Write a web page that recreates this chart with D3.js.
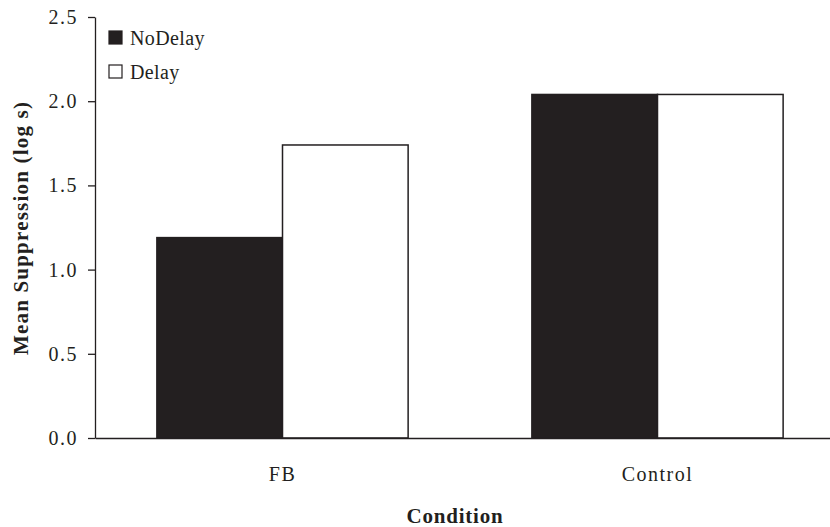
<!DOCTYPE html>
<html>
<head>
<meta charset="utf-8">
<script src="https://cdn.jsdelivr.net/npm/d3@7/dist/d3.min.js"></script>
<style>
  html, body { margin: 0; padding: 0; background: #fff; }
  svg { display: block; }
  svg text { font-family: "Liberation Serif", "Times New Roman", serif !important; fill: #231f20; }
</style>
</head>
<body>
<svg id="chart" width="830" height="527"></svg>
<script>
const categories = ["FB", "Control"];
const seriesNames = ["NoDelay", "Delay"];
const noDelayValues = [1.19, 2.04];
const delayValues = [1.74, 2.04];
const yTicks = [0.0, 0.5, 1.0, 1.5, 2.0, 2.5];
const seriesFill = ["#231f20", "#ffffff"];

const svg = d3.select("#chart");
const mLeft = 95, mRight = 845, mTop = 17, mBottom = 438;

const x0 = d3.scaleBand().domain(categories).range([mLeft, mRight]).paddingInner(0.33).paddingOuter(0.165);
const x1 = d3.scaleBand().domain(seriesNames).range([0, x0.bandwidth()]);
const y = d3.scaleLinear().domain([0, 2.5]).range([mBottom, mTop]);

const data = categories.map((c, i) => ({ cat: c, vals: [noDelayValues[i], delayValues[i]] }));

const g = svg.append("g");
g.selectAll("g.cat").data(data).enter().append("g")
  .attr("transform", d => `translate(${x0(d.cat)},0)`)
  .selectAll("rect").data(d => d.vals.map((v, j) => ({ s: seriesNames[j], v, j })))
  .enter().append("rect")
  .attr("x", d => x1(d.s))
  .attr("y", d => y(d.v))
  .attr("width", x1.bandwidth())
  .attr("height", d => mBottom - y(d.v))
  .attr("fill", d => seriesFill[d.j])
  .attr("stroke", "#231f20")
  .attr("stroke-width", 1.5);

// y axis
const yAxis = d3.axisLeft(y).tickValues(yTicks).tickFormat(d3.format(".1f")).tickSize(7).tickSizeOuter(0);
const ya = svg.append("g").attr("transform", `translate(${mLeft},0)`).call(yAxis);
ya.select(".domain").attr("stroke", "#231f20").attr("stroke-width", 1.3);
ya.selectAll(".tick line").attr("stroke", "#231f20").attr("stroke-width", 1.3);
ya.selectAll(".tick text").attr("x", -17).attr("font-size", 20).attr("letter-spacing", "1.5px").attr("fill", "#231f20");

// x axis
const xAxis = d3.axisBottom(x0).tickSize(0).tickSizeOuter(0).tickPadding(0);
const xa = svg.append("g").attr("transform", `translate(0,${mBottom})`).call(xAxis);
xa.select(".domain").attr("stroke", "#231f20").attr("stroke-width", 1.3);
xa.selectAll(".tick text").attr("y", 37).attr("dy", "0.32em").attr("font-size", 20).attr("letter-spacing", "1.5px").attr("fill", "#231f20");

// axis titles
svg.append("text").attr("x", 455).attr("y", 523).attr("text-anchor", "middle")
  .attr("font-size", 21).attr("font-weight", "bold").attr("letter-spacing", "0.8px").text("Condition");
svg.append("text").attr("transform", "translate(28,228) rotate(-90)").attr("text-anchor", "middle")
  .attr("font-size", 21).attr("font-weight", "bold").attr("letter-spacing", "1.2px").text("Mean Suppression (log s)");

// legend
const legend = svg.append("g").attr("transform", "translate(109,31)");
seriesNames.forEach((s, i) => {
  const row = legend.append("g").attr("transform", `translate(0,${i * 34})`);
  row.append("rect").attr("x", 0).attr("y", 0).attr("width", 13).attr("height", 13)
    .attr("fill", seriesFill[i]).attr("stroke", "#231f20").attr("stroke-width", 1.2);
  row.append("text").attr("x", 21).attr("y", 14).attr("font-size", 20).attr("letter-spacing", "0.4px").text(s);
});
</script>
</body>
</html>
